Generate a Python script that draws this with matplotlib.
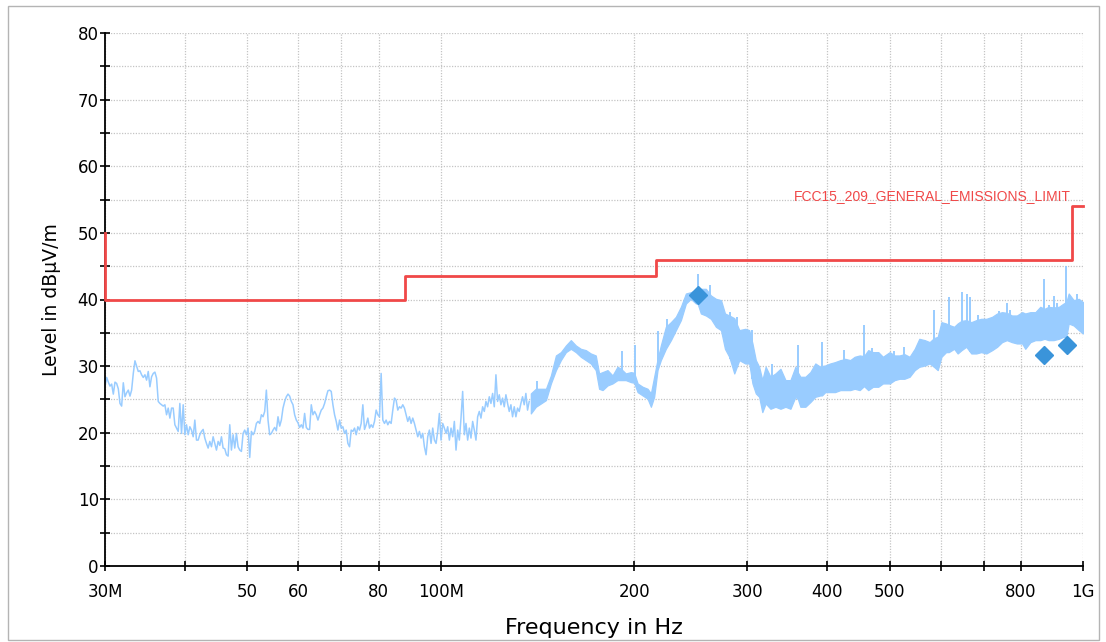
import numpy as np
import matplotlib
matplotlib.use("Agg")
import matplotlib.pyplot as plt
from matplotlib.patches import Rectangle

plt.rcParams['font.family'] = ['DejaVu Sans']

# ---- measured trace, 30 MHz .. ~137 MHz (peak detector sweep, dBuV/m) ----
sweep_start_mhz = 30.0
sweep_stop_mhz = 137.3
sweep_level = [
    27.0, 28.3, 27.6, 27.0, 27.3, 25.8, 27.6, 27.4, 26.6, 24.4, 24.0, 27.5, 25.4, 26.0, 26.4, 25.5,
    26.4, 28.9, 30.8, 30.0, 29.2, 29.3, 28.7, 28.3, 28.7, 27.9, 29.2, 26.9, 28.4, 28.9, 29.1, 28.2,
    24.7, 24.4, 24.2, 24.0, 24.2, 22.7, 23.7, 22.2, 23.7, 23.7, 21.2, 20.7, 20.2, 24.4, 19.9, 24.2,
    19.7, 21.2, 19.7, 20.9, 20.4, 19.4, 21.9, 18.9, 18.9, 19.7, 20.2, 20.5, 19.2, 18.4, 17.7, 18.7,
    17.9, 19.4, 18.4, 17.4, 18.7, 18.1, 19.4, 17.7, 17.6, 16.7, 16.5, 21.2, 17.4, 19.7, 17.7, 19.9,
    17.9, 17.4, 17.2, 19.9, 20.4, 19.7, 20.7, 16.3, 20.2, 19.7, 20.2, 21.4, 21.7, 21.4, 22.7, 22.4,
    23.2, 26.4, 21.9, 19.7, 19.9, 20.4, 20.8, 20.3, 22.4, 21.0, 21.9, 23.7, 24.7, 25.4, 25.8, 25.5,
    24.7, 24.2, 22.7, 21.9, 21.5, 20.8, 21.2, 20.7, 22.9, 20.8, 20.5, 20.5, 24.2, 22.7, 23.2, 22.7,
    21.9, 22.7, 23.4, 23.7, 24.4, 25.4, 26.3, 26.4, 26.2, 24.2, 22.7, 21.7, 20.4, 21.9, 20.7, 20.9,
    19.9, 20.4, 18.4, 17.9, 20.4, 20.2, 20.7, 19.7, 20.9, 20.4, 21.4, 24.2, 20.5, 21.2, 22.2, 20.7,
    21.2, 20.8, 21.7, 23.4, 22.7, 22.4, 28.9, 21.9, 21.4, 21.9, 21.2, 21.7, 21.4, 23.4, 25.2, 24.9,
    23.4, 23.9, 23.7, 24.2, 23.7, 22.7, 21.7, 22.4, 21.4, 22.2, 21.4, 20.4, 19.4, 20.2, 19.2, 19.9,
    17.9, 16.7, 19.4, 20.4, 18.4, 20.7, 18.9, 18.4, 20.2, 22.9, 18.9, 21.4, 20.7, 19.9, 20.9, 18.9,
    20.7, 19.4, 21.7, 17.4, 20.4, 18.9, 22.2, 26.2, 19.7, 21.4, 18.9, 20.7, 19.2, 21.7, 20.4, 18.9,
    22.4, 23.2, 22.2, 23.9, 23.2, 24.7, 23.9, 25.4, 24.4, 25.9, 23.9, 28.7, 24.7, 25.7, 24.2, 25.2,
    23.9, 25.7, 24.4, 23.2, 24.2, 22.4, 23.9, 22.4, 23.7, 23.2, 24.4, 25.4, 24.2, 25.9, 23.4, 24.7,
]

# ---- dense part of the sweep, 138 MHz .. 1 GHz: min / max envelope ----
band_freq_mhz = [
    138.1, 140.6, 143.2, 145.8, 148.4, 151.1, 153.8, 156.6, 159.4, 162.3, 165.2, 168.2, 171.2, 174.3,
    176.4, 178.6, 181.8, 185.1, 188.4, 190.8, 194.1, 197.7, 200.0, 202.5, 206.2, 209.9, 212.4, 214.9,
    217.5, 220.1, 224.1, 228.2, 232.3, 236.5, 240.8, 245.1, 249.6, 251.1, 254.1, 258.7, 263.4, 268.2,
    273.1, 277.0, 281.3, 286.4, 291.6,
    297.9, 302.2, 305.7, 309.4, 313.1, 316.7, 320.5, 326.1, 332.0, 338.0, 344.1, 350.3, 356.6, 360.0,
    363.0, 369.6, 376.2, 383.0, 389.9, 392.2, 396.9, 404, 411, 419, 424, 426, 434, 441, 449, 456, 463,
    471, 480, 488, 500, 509, 518, 527, 537,
    547, 556, 567, 577, 586, 594, 602, 612, 618, 630, 638, 647, 658, 670, 682, 694, 707, 722, 735,
    748, 761, 775, 789, 804, 813, 828, 843, 858, 871, 884, 900, 917, 933, 942, 950, 967, 985, 1000,
]
band_min = [
    22.9, 23.9, 24.4, 24.9, 27.4, 29.4, 30.9, 32.1, 32.6, 32.1, 31.4, 30.9, 30.4, 29.4,
    26.6, 26.4, 27.1, 27.4, 27.9, 27.9, 27.9, 27.6, 27.5, 26.1, 25.6, 25.1, 23.9, 25.4,
    29.4, 30.9, 32.6, 33.9, 35.4, 36.9, 39.4, 40.1, 39.4, 39.4, 37.9, 37.6, 37.1, 35.9,
    35.4, 32.6, 31.4, 28.9, 30.9,
    30.4, 30.4, 27.4, 25.9, 25.4, 23.1, 24.4, 23.6, 23.9, 23.6, 23.9, 23.6, 25.4, 25.0,
    23.9, 23.9, 24.6, 25.4, 25.6, 25.6, 26.1, 26.1, 26.1, 26.4, 26.4, 26.4, 26.4, 26.6, 26.4, 27.0, 26.4,
    26.9, 26.9, 27.4, 27.4, 27.9, 28.1, 28.1, 28.4,
    29.4, 29.9, 30.1, 30.4, 29.9, 29.4, 31.4, 32.1, 32.1, 32.6, 31.9, 32.4, 32.9, 31.9, 31.9, 32.1, 31.9,
    32.4, 32.9, 33.6, 33.9, 33.6, 33.4, 33.4, 32.6, 33.6, 33.9, 33.9, 34.1, 33.9, 33.9, 34.1, 34.4, 34.4,
    36.4, 36.1, 35.4, 34.9,
]
band_max = [
    25.9, 26.6, 26.6, 26.6, 28.6, 31.6, 32.1, 33.1, 33.9, 33.1, 32.6, 32.4, 31.9, 31.6,
    28.9, 29.1, 29.4, 28.6, 29.9, 29.6, 28.9, 29.1, 29.0, 27.4, 26.9, 26.6, 25.9, 28.4,
    31.0, 33.1, 35.9, 36.6, 37.4, 38.9, 40.9, 41.1, 41.4, 41.3, 41.6, 41.6, 40.6, 40.1,
    39.9, 37.9, 37.6, 37.2, 35.4,
    35.6, 35.4, 33.4, 30.9, 29.9, 27.9, 29.9, 28.4, 28.9, 29.6, 27.9, 27.9, 29.9, 29.0,
    28.4, 28.4, 29.1, 30.4, 29.9, 30.0, 30.1, 30.4, 30.6, 30.9, 31.0, 31.1, 30.9, 31.4, 31.6, 31.5, 32.4,
    32.1, 32.1, 31.4, 32.1, 31.6, 31.6, 31.8, 31.4,
    32.6, 34.1, 33.9, 33.6, 34.2, 34.4, 36.6, 36.4, 36.2, 35.9, 36.4, 36.8, 36.9, 36.6, 36.9, 37.1, 37.1,
    37.4, 37.9, 38.1, 38.0, 37.6, 37.6, 38.1, 37.9, 38.1, 38.1, 38.9, 38.6, 38.9, 38.8, 38.9, 39.4, 39.6,
    40.9, 39.9, 40.1, 39.6,
]

# narrow single-bin peaks standing out of the envelope
peak_freq_mhz = [141, 191.5, 200.3, 218, 225, 251.1, 262.5, 282, 289, 305, 328, 360, 392.2,
                 424, 456, 469, 507, 526, 586, 618, 647, 660, 667, 686, 741, 761, 770,
                 871, 884, 900, 911, 942, 977]
peak_level = [27.8, 32.2, 33.2, 35.2, 37.1, 43.9, 42.2, 38.1, 37.4, 35.4, 30.3, 33.1, 33.6,
              32.4, 36.1, 32.7, 32.2, 32.9, 38.4, 40.4, 41.1, 40.9, 40.4, 37.7, 38.2, 39.4, 38.4,
              43.1, 39.2, 40.6, 39.5, 45.1, 40.9]

# ---- final (quasi-peak) measurements ----
final_freq_mhz = [251.1, 869.8, 944.4]
final_level = [40.7, 31.7, 33.2]

# ---- FCC 15.209 limit ----
limit_name = "FCC15_209_GENERAL_EMISSIONS_LIMIT"
limit_freq_mhz = [30, 30, 88, 88, 216, 216, 960, 960, 1000]
limit_level = [50, 40, 40, 43.5, 43.5, 46, 46, 54, 54]

# ---- axis ticks ----
x_ticks = [30, 40, 50, 60, 70, 80, 100, 200, 300, 400, 500, 600, 700, 800, 1000]
x_tick_labels = ["30M", "", "50", "60", "", "80", "100M", "200", "300", "400", "500", "", "", "800", "1G"]
y_ticks = [0, 10, 20, 30, 40, 50, 60, 70, 80]
y_minor_ticks = [5, 15, 25, 35, 45, 55, 65, 75]

trace_color = "#99ccff"
limit_color = "#f04848"
final_color = "#3a94da"

fig = plt.figure(figsize=(11.06, 6.42), dpi=100)
fig.patches.append(Rectangle((0.007, 0.003), 0.987, 0.988, transform=fig.transFigure,
                             fill=False, edgecolor="#b4b4b4", linewidth=1.0))
ax = fig.add_axes([105 / 1106, 1 - 566 / 642, (1083 - 105) / 1106, (566 - 33) / 642])

ax.set_xscale("log")
ax.set_xlim(30, 1000)
ax.set_ylim(0, 80)

sweep_freq = np.geomspace(sweep_start_mhz, sweep_stop_mhz, len(sweep_level))
ax.plot(sweep_freq, sweep_level, color=trace_color, lw=1.1, zorder=3)
ax.fill_between(band_freq_mhz, band_min, band_max, facecolor=trace_color,
                edgecolor=trace_color, linewidth=0.9, zorder=3)
peak_base = np.interp(peak_freq_mhz, band_freq_mhz, band_min)
ax.vlines(peak_freq_mhz, peak_base, peak_level, color=trace_color, lw=1.4, zorder=3)

ax.plot(limit_freq_mhz, limit_level, color=limit_color, lw=2.0, zorder=4, clip_on=False)
ax.text(958, 55.6, limit_name, color=limit_color, fontsize=10, ha="right", va="center",
        family=["Liberation Sans", "DejaVu Sans"])

ax.plot(final_freq_mhz, final_level, linestyle="none", marker="D", markersize=9,
        color=final_color, zorder=5)

ax.set_xticks(x_ticks)
ax.set_xticklabels(x_tick_labels)
ax.xaxis.set_minor_locator(matplotlib.ticker.NullLocator())
ax.set_yticks(y_ticks)
ax.set_yticks(y_minor_ticks, minor=True)

ax.tick_params(axis="both", which="both", direction="inout", color="black", width=1.2)
ax.tick_params(axis="x", which="major", length=7, pad=9, labelsize=12)
ax.tick_params(axis="y", which="major", length=7, pad=1, labelsize=12)
ax.tick_params(axis="y", which="minor", length=7)

ax.grid(True, which="major", axis="x", color="#c4c4c4", linestyle=(0, (1, 1.2)), linewidth=0.9)
ax.grid(True, which="both", axis="y", color="#c4c4c4", linestyle=(0, (1, 1.2)), linewidth=0.9)
ax.set_axisbelow(True)

for side in ("top", "right"):
    ax.spines[side].set_visible(False)
for side in ("left", "bottom"):
    ax.spines[side].set_linewidth(1.3)
    ax.spines[side].set_zorder(3.5)

ax.set_xlabel("Frequency in Hz", fontsize=16, labelpad=12)
ax.set_ylabel("Level in dBµV/m", fontsize=13.5, labelpad=12)

fig.savefig("out.png", dpi=100)
